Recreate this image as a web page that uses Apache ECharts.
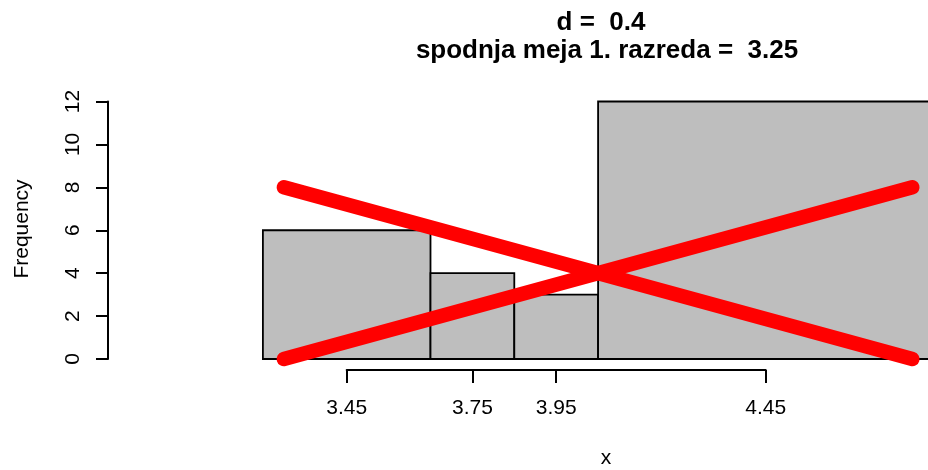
<!DOCTYPE html>
<html>
<head>
<meta charset="utf-8">
<script src="https://cdn.jsdelivr.net/npm/echarts@6/dist/echarts.min.js"></script>
<style>
html,body{margin:0;padding:0;background:#fff;}
#chart{width:928px;height:470px;}
</style>
</head>
<body>
<div id="chart"></div>
<script>
// ---- data ----
const breaks = [3.25, 3.65, 3.85, 4.05, 4.85];
const counts = [6, 4, 3, 12];
const xTicks = [3.45, 3.75, 3.95, 4.45];
const yTicks = [0, 2, 4, 6, 8, 10, 12];
const crossX = [3.3, 4.8];
const crossDown = [8, 0];
const crossUp = [0, 8];
const titleLine1 = 'd =  0.4';
const titleLine2 = 'spodnja meja 1. razreda =  3.25';
const xName = 'x';
const yName = 'Frequency';

// ---- chart ----
const FONT = "'Liberation Sans', Arial, Helvetica, sans-serif";
const barData = counts.map((c, i) => [breaks[i], breaks[i + 1], c]);

const chart = echarts.init(document.getElementById('chart'), null, {renderer: 'canvas'});
chart.setOption({
  backgroundColor: '#ffffff',
  animation: false,
  grid: [
    {left: 108, right: 0, top: 101.5, height: 257.5, containLabel: false},
    {left: 346.7, width: 419, top: 300, height: 70, containLabel: false}
  ],
  xAxis: [
    {gridIndex: 0, type: 'value', min: 2.8803, max: 4.8374, show: false},
    {
      gridIndex: 1, type: 'value', min: xTicks[0], max: xTicks[xTicks.length - 1],
      position: 'bottom',
      axisLine: {show: true, lineStyle: {color: '#000', width: 2}},
      axisTick: {show: true, customValues: xTicks, length: 13, lineStyle: {color: '#000', width: 2}},
      axisLabel: {show: true, customValues: xTicks, margin: 28, color: '#000', fontSize: 21, fontFamily: FONT,
        formatter: v => String(v)},
      splitLine: {show: false}
    }
  ],
  yAxis: [
    {
      gridIndex: 0, type: 'value', min: yTicks[0], max: yTicks[yTicks.length - 1], interval: 2,
      position: 'left',
      axisLine: {show: true, lineStyle: {color: '#000', width: 2}},
      axisTick: {show: true, length: 12, lineStyle: {color: '#000', width: 2}},
      axisLabel: {show: true, rotate: 90, margin: 24, color: '#000', fontSize: 21, fontFamily: FONT,
        align: 'center', verticalAlign: 'bottom'},
      splitLine: {show: false}
    },
    {gridIndex: 1, type: 'value', show: false, min: 0, max: 1}
  ],
  series: [
    {
      type: 'custom',
      xAxisIndex: 0, yAxisIndex: 0,
      data: barData,
      clip: false,
      renderItem: function (params, api) {
        const p0 = api.coord([api.value(0), api.value(2)]);
        const p1 = api.coord([api.value(1), 0]);
        return {
          type: 'rect',
          shape: {x: p0[0], y: p0[1], width: p1[0] - p0[0], height: p1[1] - p0[1]},
          style: {fill: '#BEBEBE', stroke: '#000', lineWidth: 1.8}
        };
      }
    },
    {
      type: 'line', xAxisIndex: 0, yAxisIndex: 0, clip: false, symbol: 'none', silent: true,
      data: crossX.map((x, i) => [x, crossDown[i]]),
      lineStyle: {color: '#FF0000', width: 14.5, cap: 'round'}
    },
    {
      type: 'line', xAxisIndex: 0, yAxisIndex: 0, clip: false, symbol: 'none', silent: true,
      data: crossX.map((x, i) => [x, crossUp[i]]),
      lineStyle: {color: '#FF0000', width: 14.5, cap: 'round'}
    }
  ],
  graphic: [
    {type: 'text', x: 601, y: 23, style: {text: titleLine1, font: "bold 26px " + FONT, fill: '#000', align: 'center', verticalAlign: 'middle'}},
    {type: 'text', x: 607, y: 51, style: {text: titleLine2, font: "bold 26px " + FONT, fill: '#000', align: 'center', verticalAlign: 'middle'}},
    {type: 'text', x: 606, y: 458, style: {text: xName, font: "21px " + FONT, fill: '#000', align: 'center', verticalAlign: 'middle'}},
    {type: 'text', x: 22, y: 229, rotation: Math.PI / 2, style: {text: yName, font: "21px " + FONT, fill: '#000', align: 'center', verticalAlign: 'middle'}}
  ]
});
</script>
</body>
</html>
